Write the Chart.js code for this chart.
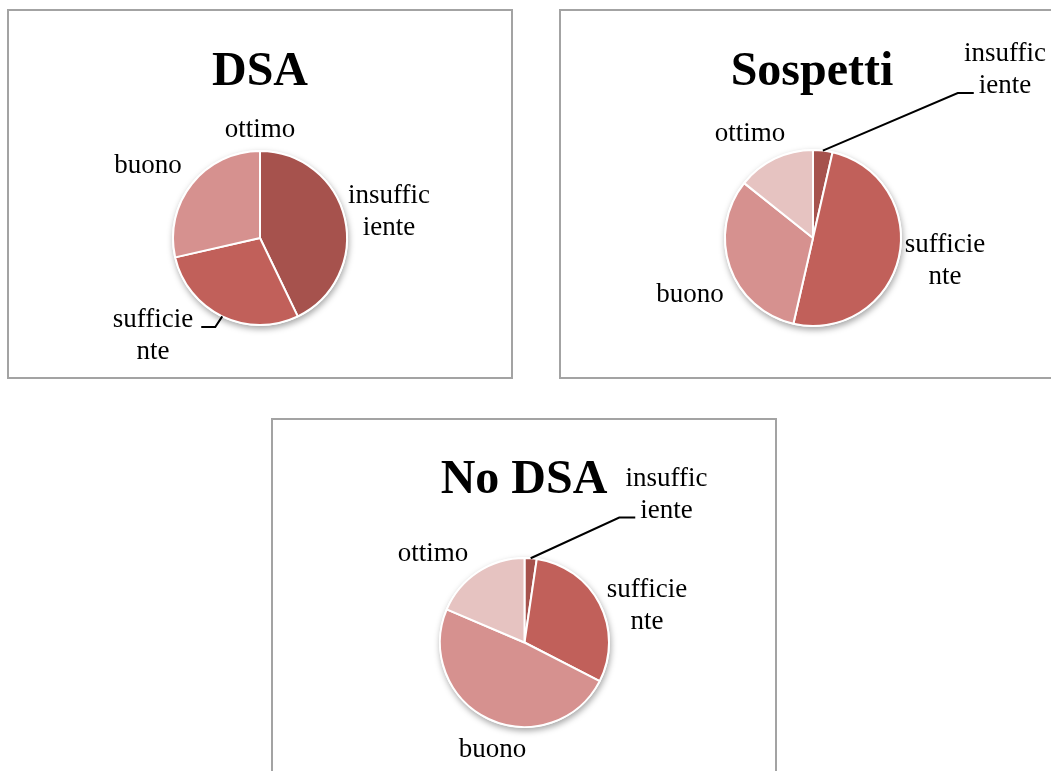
<!DOCTYPE html>
<html>
<head>
<meta charset="utf-8">
<script src="https://cdn.jsdelivr.net/npm/chart.js@4"></script>
<style>
  html, body { margin: 0; padding: 0; background: #fff; overflow: hidden; width: 1051px; height: 771px; }
  .box { position: absolute; width: 506px; height: 370px; border: 2px solid #a3a3a3; box-sizing: border-box; }
  .box canvas { position: absolute; left: -2px; top: -2px; }
</style>
</head>
<body>
<div class="box" style="left:7px;top:9px"><canvas id="dsa" width="506" height="370"></canvas></div>
<div class="box" style="left:559px;top:9px"><canvas id="sospetti" width="506" height="370"></canvas></div>
<div class="box" style="left:271px;top:418px"><canvas id="nodsa" width="506" height="370"></canvas></div>

<script>
// valutazioni per gruppo
const categories = ['insufficiente', 'sufficiente', 'buono', 'ottimo'];
const labelLines = [['insuffic', 'iente'], ['sufficie', 'nte'], ['buono'], ['ottimo']];
const dsaValues = [3, 2, 2, 0];
const sospettiValues = [1, 14, 9, 4];
const noDsaValues = [1, 13, 21, 8];

const sliceColors = ['#A6524D', '#C1605A', '#D6918F', '#E6C3C1'];
const LABEL_FONT = '27px "Liberation Serif", serif';
const TITLE_FONT = 'bold 48px "Liberation Serif", serif';
const LINE_H = 32;

// shadow under the pie, title, and the outside labels with leader lines
const pieDecor = {
    id: 'pieDecor',
    beforeDatasetsDraw(chart) {
        const arc = chart.getDatasetMeta(0).data[0];
        const { x, y, outerRadius } = arc.getProps(['x', 'y', 'outerRadius'], true);
        const ctx = chart.ctx;
        ctx.save();
        ctx.shadowColor = 'rgba(0,0,0,0.35)';
        ctx.shadowBlur = 6;
        ctx.shadowOffsetX = 1;
        ctx.shadowOffsetY = 3;
        ctx.fillStyle = '#fff';
        ctx.beginPath();
        ctx.arc(x, y, outerRadius + 1, 0, Math.PI * 2);
        ctx.fill();
        ctx.restore();
    },
    afterDatasetsDraw(chart, args, opts) {
        const ctx = chart.ctx;
        const arcs = chart.getDatasetMeta(0).data;
        const { x: cx, y: cy } = arcs[0].getProps(['x', 'y'], true);

        ctx.save();
        ctx.fillStyle = '#000';
        ctx.textAlign = 'center';
        ctx.textBaseline = 'alphabetic';
        ctx.font = TITLE_FONT;
        ctx.fillText(opts.title, chart.width / 2, opts.titleY);

        ctx.font = LABEL_FONT;
        labelLines.forEach((lines, i) => {
            const [dx, dy] = opts.labelPos[i];
            lines.forEach((t, k) => ctx.fillText(t, cx + dx, cy + dy + k * LINE_H));
        });

        // leader line from the slice edge to its label
        const ld = opts.leader;
        if (ld) {
            const a = arcs[ld.index].getProps(['startAngle', 'endAngle', 'outerRadius'], true);
            const mid = (a.startAngle + a.endAngle) / 2;
            const ex = cx + a.outerRadius * Math.cos(mid);
            const ey = cy + a.outerRadius * Math.sin(mid);
            const [dx, dy] = opts.labelPos[ld.index];
            const txt = labelLines[ld.index][ld.line];
            const w = ctx.measureText(txt).width;
            const ly = cy + dy + ld.line * LINE_H;
            let segEnd, segStart;
            if (ld.side === 'left') {
                segEnd = cx + dx - w / 2 - 5;
                segStart = segEnd - 16;
            } else {
                segEnd = cx + dx + w / 2 + 8;
                segStart = segEnd + 14;
            }
            ctx.strokeStyle = '#000';
            ctx.lineWidth = 2;
            ctx.beginPath();
            ctx.moveTo(ex, ey);
            ctx.lineTo(segStart, ly);
            ctx.lineTo(segEnd, ly);
            ctx.stroke();
        }
        ctx.restore();
    }
};

function makePie(id, values, center, radius, deco) {
    const W = 506, H = 370;
    new Chart(document.getElementById(id), {
        type: 'pie',
        data: {
            labels: categories,
            datasets: [{
                data: values,
                backgroundColor: sliceColors,
                borderColor: '#fff',
                borderWidth: 2,
                radius: radius
            }]
        },
        options: {
            responsive: false,
            animation: false,
            layout: {
                padding: {
                    left: center[0] - 100,
                    right: W - center[0] - 100,
                    top: center[1] - 100,
                    bottom: H - center[1] - 100
                }
            },
            plugins: {
                legend: { display: false },
                tooltip: { enabled: false },
                title: { display: false },
                pieDecor: deco
            }
        },
        plugins: [pieDecor]
    });
}

makePie('dsa', dsaValues, [253, 229], 87, {
    title: 'DSA', titleY: 76,
    labelPos: [[129, -35], [-107, 89], [-112, -65], [0, -101]],
    leader: { index: 1, line: 0, side: 'right' }
});

makePie('sospetti', sospettiValues, [254, 229], 88, {
    title: 'Sospetti', titleY: 76,
    labelPos: [[192, -177], [132, 14], [-123, 64], [-63, -97]],
    leader: { index: 0, line: 1, side: 'left' }
});

makePie('nodsa', noDsaValues, [253.5, 224.5], 84.5, {
    title: 'No DSA', titleY: 75,
    labelPos: [[142, -157], [122.5, -46], [-32, 114], [-91.5, -81.5]],
    leader: { index: 0, line: 1, side: 'left' }
});
</script>
</body>
</html>
